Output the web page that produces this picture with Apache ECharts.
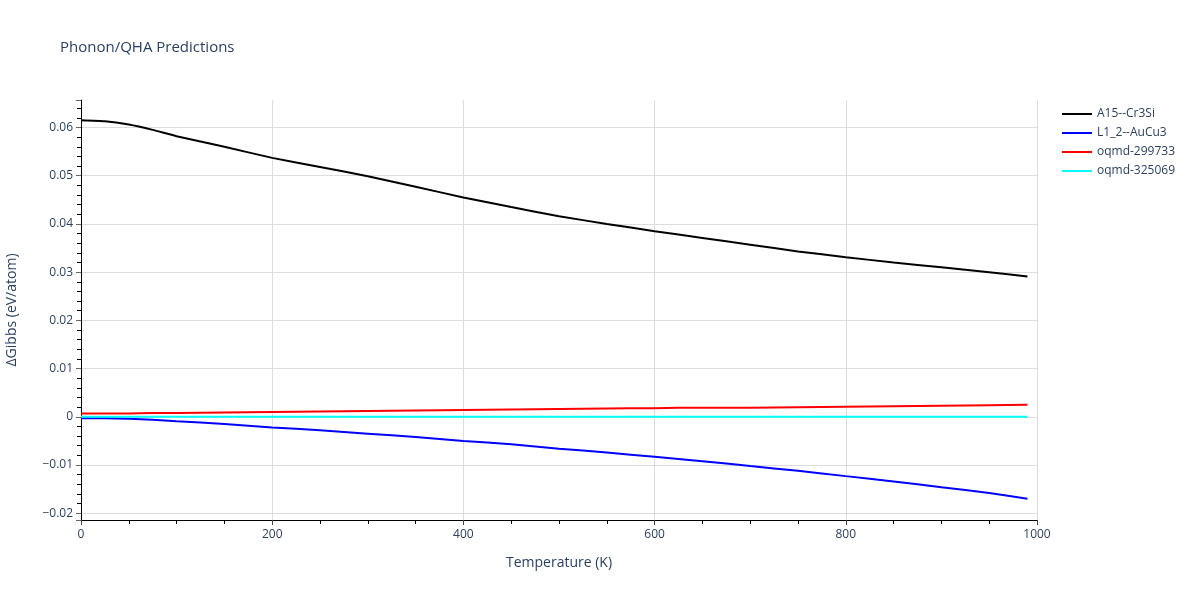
<!DOCTYPE html>
<html>
<head>
<meta charset="utf-8">
<script src="https://cdn.jsdelivr.net/npm/echarts@6/dist/echarts.min.js"></script>
<style>html,body{margin:0;padding:0;background:#fff;}#chart{width:1200px;height:600px;}</style>
</head>
<body>
<div id="chart"></div>
<script>
const temperatures = [0,25,50,75,100,150,200,250,300,350,400,450,500,550,600,650,700,750,800,850,900,950,990];
const seriesNames = ['A15--Cr3Si','L1_2--AuCu3','oqmd-299733','oqmd-325069'];
const a15Cr3Si = [0.0615,0.0613,0.0606,0.0595,0.0582,0.0560,0.0537,0.0518,0.0499,0.0477,0.0455,0.0435,0.0416,0.0400,0.0385,0.0371,0.0357,0.0343,0.0331,0.0320,0.0310,0.0300,0.0291];
const l12AuCu3 = [-0.0003,-0.0003,-0.0004,-0.0006,-0.0009,-0.0015,-0.0022,-0.0028,-0.0035,-0.0042,-0.0050,-0.0057,-0.0066,-0.0074,-0.0083,-0.0092,-0.0102,-0.0112,-0.0123,-0.0134,-0.0146,-0.0158,-0.0170];
const oqmd299733 = [0.0007,0.0007,0.0007,0.0008,0.0008,0.0009,0.0010,0.0011,0.0012,0.0013,0.0014,0.0015,0.0016,0.0017,0.0018,0.0019,0.0019,0.0020,0.0021,0.0022,0.0023,0.0024,0.0025];
const oqmd325069 = [0,0,0,0,0,0,0,0,0,0,0,0,0,0,0,0,0,0,0,0,0,0,0];
const colors = ['#000000','#0000ff','#ff0000','#00ffff'];

const allValues = [a15Cr3Si, l12AuCu3, oqmd299733, oqmd325069];
const textColor = '#2a3f5f';
const fontFamily = '"Open Sans", "Noto Sans", sans-serif';

const chart = echarts.init(document.getElementById('chart'));
chart.setOption({
  animation: false,
  backgroundColor: '#fff',
  title: {
    text: 'Phonon/QHA Predictions',
    left: 55, top: 35,
    textStyle: {fontSize: 15, fontWeight: 'normal', color: textColor, fontFamily: fontFamily}
  },
  legend: {
    orient: 'vertical',
    left: 1057, top: 103,
    icon: 'rect',
    itemWidth: 30, itemHeight: 2, itemGap: 7,
    textStyle: {fontSize: 12, color: textColor, fontFamily: fontFamily},
    data: seriesNames
  },
  grid: {left: 81, right: 163, top: 100, bottom: 80, containLabel: false, outerBoundsMode: 'none'},
  xAxis: {
    type: 'value', min: 0, max: 1000, interval: 200,
    name: 'Temperature (K)', nameLocation: 'middle', nameGap: 36,
    nameTextStyle: {fontSize: 14, color: textColor, fontFamily: fontFamily},
    axisLine: {show: true, onZero: false, lineStyle: {color: '#000', width: 1}},
    axisTick: {show: true, length: 5, lineStyle: {color: '#444'}},
    minorTick: {show: true, splitNumber: 4, length: 4, lineStyle: {color: '#000'}},
    axisLabel: {fontSize: 12, color: textColor, margin: 9, fontFamily: fontFamily,
      formatter: function (v) { return String(v); }},
    splitLine: {show: true, lineStyle: {color: '#dcdcdc', width: 1}}
  },
  yAxis: {
    type: 'value', min: -0.0214, max: 0.0657,
    minInterval: 0.01, maxInterval: 0.01,
    name: 'ΔGibbs (eV/atom)', nameLocation: 'middle', nameGap: 62,
    nameTextStyle: {fontSize: 14, color: textColor, fontFamily: fontFamily},
    axisLine: {show: true, onZero: false, lineStyle: {color: '#000', width: 1}},
    axisTick: {show: true, length: 5, lineStyle: {color: '#666'}},
    minorTick: {show: true, splitNumber: 5, length: 4, lineStyle: {color: '#000'}},
    axisLabel: {fontSize: 12, color: textColor, margin: 8, fontFamily: fontFamily,
      showMinLabel: false, showMaxLabel: false,
      formatter: function (v) {
        if (Math.abs(v) < 1e-9) return '0';
        const s = (Math.round(v * 100) / 100).toFixed(2);
        return s.replace('-', '\u2212');
      }},
    splitLine: {show: true, showMaxLine: false, showMinLine: false, lineStyle: {color: '#dcdcdc', width: 1}}
  },
  series: seriesNames.map(function (name, i) {
    return {
      name: name, type: 'line', symbol: 'none', smooth: 0.15,
      lineStyle: {color: colors[i], width: 2},
      itemStyle: {color: colors[i]},
      data: temperatures.map(function (t, j) { return [t, allValues[i][j]]; })
    };
  })
});
</script>
</body>
</html>
